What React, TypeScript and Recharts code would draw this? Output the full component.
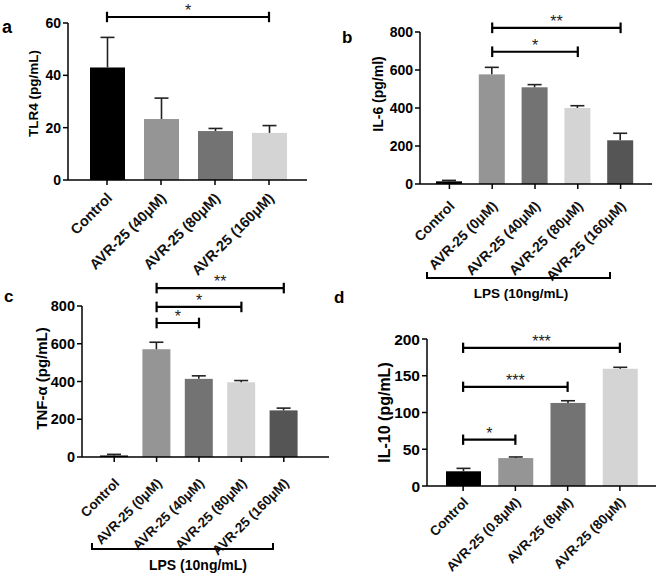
import React from "react";
import { BarChart, Bar, XAxis, YAxis, Cell, ReferenceLine } from "recharts";

const W = 658;
const H = 577;
const FONT = "'Liberation Sans', Arial, sans-serif";
const MU = "\u03bc";

// panel a - TLR4
const aCats = ["Control", `AVR-25 (40${MU}M)`, `AVR-25 (80${MU}M)`, `AVR-25 (160${MU}M)`];
const aMean = [43, 23.3, 18.7, 18];
const aSem = [11.5, 8, 1, 2.8];
const aTicks = [0, 20, 40, 60];

// panel b - IL-6
const bCats = ["Control", `AVR-25 (0${MU}M)`, `AVR-25 (40${MU}M)`, `AVR-25 (80${MU}M)`, `AVR-25 (160${MU}M)`];
const bMean = [14, 577, 509, 400, 230];
const bSem = [5, 37, 14, 12, 37];
const bTicks = [0, 200, 400, 600, 800];

// panel c - TNF-a
const cCats = bCats;
const cMean = [8, 571, 414, 396, 247];
const cSem = [6, 37, 16, 9, 12];
const cTicks = [0, 200, 400, 600, 800];

// panel d - IL-10
const dCats = ["Control", `AVR-25 (0.8${MU}M)`, `AVR-25 (8${MU}M)`, `AVR-25 (80${MU}M)`];
const dMean = [20, 38, 113, 159.5];
const dSem = [4, 1.5, 3, 2];
const dTicks = [0, 50, 100, 150, 200];

const grey4 = ["#000000", "#959595", "#737373", "#d4d4d4"];
const grey5 = ["#000000", "#959595", "#737373", "#d4d4d4", "#555555"];

// significance brackets: [from, to, y value, stars]
const aSig: [string, string, number, string][] = [["Control", aCats[3], 62.3, "*"]];
const bSig: [string, string, number, string][] = [
  [bCats[1], bCats[4], 822, "**"],
  [bCats[1], bCats[3], 696, "*"],
];
const cSig: [string, string, number, string][] = [
  [cCats[1], cCats[4], 895, "**"],
  [cCats[1], cCats[3], 795, "*"],
  [cCats[1], cCats[2], 710, "*"],
];
const dSig: [string, string, number, string][] = [
  ["Control", dCats[3], 188, "***"],
  ["Control", dCats[2], 135, "***"],
  ["Control", dCats[1], 63, "*"],
];

const makeRows = (cats: string[], mean: number[], sem: number[]) =>
  cats.map((name, i) => ({ name, mean: mean[i], sem: sem[i] }));

// bar with an upward-only error whisker, scaled from the bar's own geometry
const ErrBar = (props: any) => {
  const { x, y, width, height, fill, payload } = props;
  const ppu = payload.mean ? height / payload.mean : 0;
  const top = y - payload.sem * ppu;
  const cx = x + width / 2;
  return (
    <g>
      <rect x={x} y={y} width={width} height={height} fill={fill} />
      <line x1={cx} x2={cx} y1={y} y2={top} stroke="#222" strokeWidth={1.6} />
      <line x1={cx - 7} x2={cx + 7} y1={top} y2={top} stroke="#222" strokeWidth={1.6} />
    </g>
  );
};

const RotTick = (props: any) => {
  const { x, y, payload, dx, dy, fs } = props;
  const tx = x + dx;
  const ty = y + dy;
  return (
    <text x={tx} y={ty} textAnchor="end" transform={`rotate(-45 ${tx} ${ty})`} fontSize={fs} fontWeight={700} fill="#111">
      {payload.value}
    </text>
  );
};

type PanelProps = {
  rows: any[];
  colors: string[];
  ticks: number[];
  sig: [string, string, number, string][];
  capHalf: number;
  label: string;
  labelFs: number;
  labelDy: number;
  tickFs: number;
  xFs: number;
  xDy: number;
  axisX: number;
  labelX: number;
  top: number;
  bottom: number;
  right: number;
  padL: number;
  padR: number;
  barSize: number;
};

function Panel(p: PanelProps) {
  const yW = 2 * (p.axisX - p.labelX);
  const xH = 60;
  const max = p.ticks[p.ticks.length - 1];
  return (
    <div style={{ position: "absolute", left: 0, top: 0 }}>
      <BarChart
        width={W}
        height={H}
        data={p.rows}
        margin={{ top: p.top, right: W - p.right, left: p.axisX - yW, bottom: H - p.bottom - xH }}
      >
        <XAxis
          dataKey="name"
          interval={0}
          height={xH}
          padding={{ left: p.padL, right: p.padR }}
          stroke="#000"
          strokeWidth={1.5}
          tickSize={5}
          tick={(t: any) => <RotTick {...t} dx={6} dy={p.xDy} fs={p.xFs} />}
        />
        <YAxis
          width={yW}
          domain={[0, max]}
          ticks={p.ticks}
          interval={0}
          stroke="#000"
          strokeWidth={1.5}
          tickSize={5}
          tick={{ fill: "#000", fontSize: p.tickFs, fontWeight: 700 }}
          label={{
            value: p.label,
            angle: -90,
            position: "center",
            dy: p.labelDy,
            fill: "#000",
            fontSize: p.labelFs,
            fontWeight: 700,
          }}
        />
        <Bar dataKey="mean" barSize={p.barSize} isAnimationActive={false} shape={ErrBar}>
          {p.rows.map((r, i) => (
            <Cell key={r.name} fill={p.colors[i]} />
          ))}
        </Bar>
        {p.sig.map(([from, to, y, stars]) => (
          <ReferenceLine
            key={`s-${from}-${to}`}
            segment={[{ x: from, y }, { x: to, y }]}
            stroke="#000"
            strokeWidth={2.2}
            ifOverflow="visible"
            label={{ value: stars, position: "top", offset: 1, fill: "#222", fontSize: 16 }}
          />
        ))}
        {p.sig.map(([from, , y]) => (
          <ReferenceLine
            key={`l-${from}-${y}`}
            segment={[{ x: from, y: y - p.capHalf }, { x: from, y: y + p.capHalf }]}
            stroke="#000"
            strokeWidth={2.2}
            ifOverflow="visible"
          />
        ))}
        {p.sig.map(([, to, y]) => (
          <ReferenceLine
            key={`r-${to}-${y}`}
            segment={[{ x: to, y: y - p.capHalf }, { x: to, y: y + p.capHalf }]}
            stroke="#000"
            strokeWidth={2.2}
            ifOverflow="visible"
          />
        ))}
      </BarChart>
    </div>
  );
}

export default function App() {
  return (
    <div style={{ position: "absolute", left: 0, top: 0, width: W, height: H, background: "#fff", fontFamily: FONT }}>
      <Panel
        rows={makeRows(aCats, aMean, aSem)}
        colors={grey4}
        ticks={aTicks}
        sig={aSig}
        capHalf={2}
        label="TLR4 (pg/mL)"
        labelFs={13.5}
        labelDy={-8}
        tickFs={14}
        xFs={14.5}
        xDy={12}
        axisX={68}
        labelX={33}
        top={23}
        bottom={180}
        right={307}
        padL={12}
        padR={11}
        barSize={35}
      />
      <Panel
        rows={makeRows(bCats, bMean, bSem)}
        colors={grey5}
        ticks={bTicks}
        sig={bSig}
        capHalf={28}
        label="IL-6 (pg/ml)"
        labelFs={14}
        labelDy={-14}
        tickFs={14}
        xFs={14}
        xDy={16}
        axisX={420}
        labelX={378}
        top={32}
        bottom={184}
        right={652}
        padL={8}
        padR={10}
        barSize={26}
      />
      <Panel
        rows={makeRows(cCats, cMean, cSem)}
        colors={grey5}
        ticks={cTicks}
        sig={cSig}
        capHalf={28}
        label={"TNF-\u03b1 (pg/mL)"}
        labelFs={15}
        labelDy={-3}
        tickFs={14.5}
        xFs={13.5}
        xDy={20}
        axisX={82}
        labelX={42}
        top={306}
        bottom={457}
        right={329}
        padL={11}
        padR={24}
        barSize={28}
      />
      <Panel
        rows={makeRows(dCats, dMean, dSem)}
        colors={grey4}
        ticks={dTicks}
        sig={dSig}
        capHalf={7}
        label="IL-10 (pg/mL)"
        labelFs={16}
        labelDy={0}
        tickFs={15.5}
        xFs={13.5}
        xDy={10}
        axisX={427}
        labelX={384}
        top={339}
        bottom={486}
        right={656}
        padL={10}
        padR={10}
        barSize={35}
      />
      <svg width={W} height={H} style={{ position: "absolute", left: 0, top: 0, pointerEvents: "none" }}>
        <g fontWeight={700} fill="#000" fontFamily={FONT}>
          <text x={2} y={33} fontSize={18}>a</text>
          <text x={342} y={43} fontSize={17}>b</text>
          <text x={4} y={302} fontSize={17}>c</text>
          <text x={334} y={303} fontSize={17}>d</text>
        </g>
        <g stroke="#000" strokeWidth={2} fill="none">
          <path d="M427 272 V278 H610 V272" />
          <path d="M92 543 V549 H273 V543" />
        </g>
        <g fontWeight={700} fill="#000" fontFamily={FONT} textAnchor="middle">
          <text x={521} y={298} fontSize={13.5}>LPS (10ng/mL)</text>
          <text x={198} y={570} fontSize={14}>LPS (10ng/mL)</text>
        </g>
      </svg>
    </div>
  );
}
